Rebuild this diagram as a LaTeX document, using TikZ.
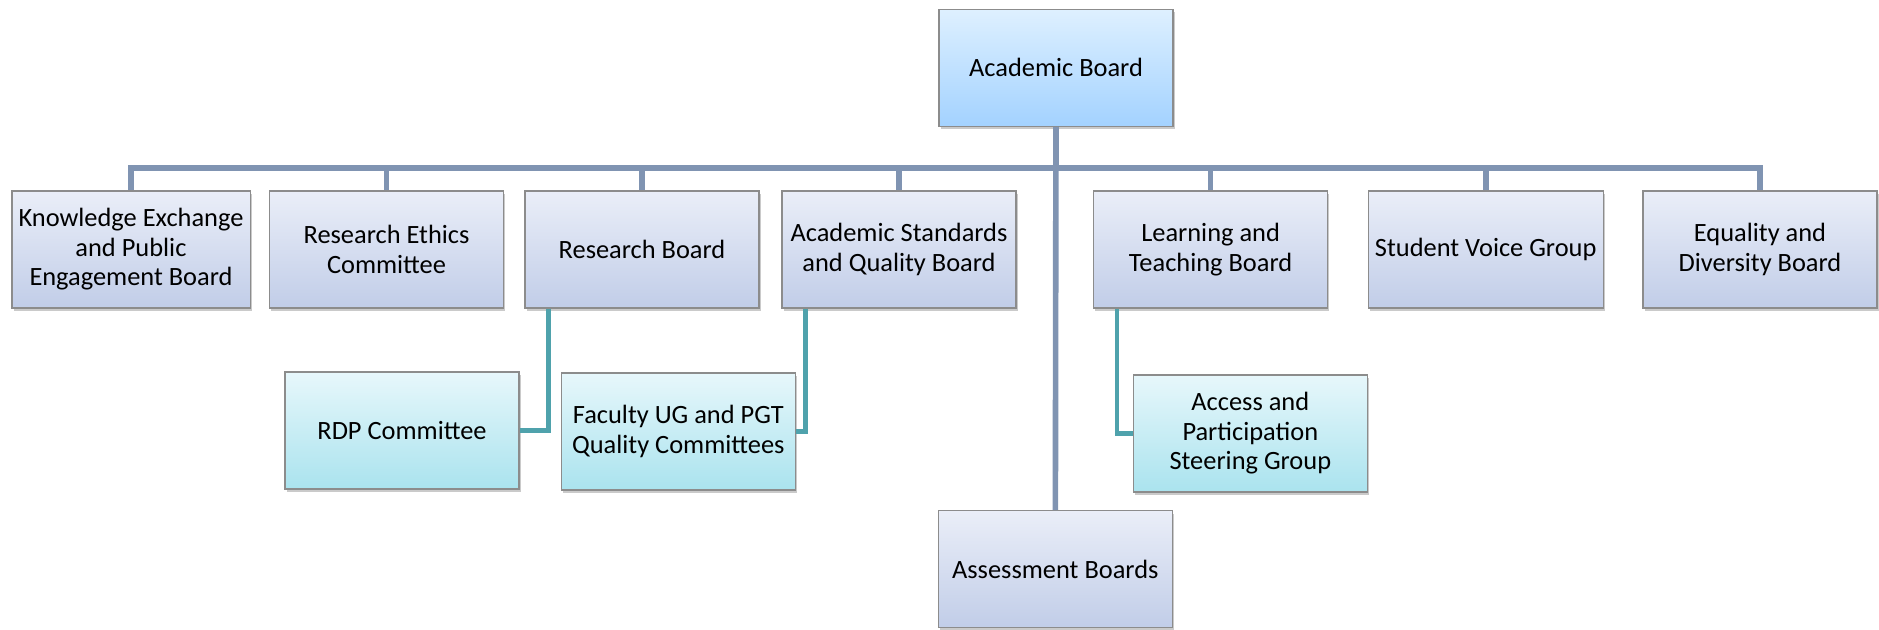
\documentclass[tikz,border=0pt]{standalone}
\usepackage{fontspec}
\setmainfont{Carlito}
\usetikzlibrary{graphs}
\usetikzlibrary{shadows}
\definecolor{rowtop}{HTML}{EAEEF8}
\definecolor{rowbot}{HTML}{C1CDE8}
\definecolor{headtop}{HTML}{DEF0FF}
\definecolor{headbot}{HTML}{A3D2FF}
\definecolor{subtop}{HTML}{E7F7FB}
\definecolor{subbot}{HTML}{AAE3EE}
\definecolor{boxline}{HTML}{8C8C8C}
\definecolor{busline}{HTML}{8094B2}
\definecolor{subline}{HTML}{4FA2AC}
\tikzstyle{box} = [draw=boxline, line width=0.6pt, minimum width=117pt, minimum height=58.5pt, text centered, align=center, font=\fontsize{13.2}{14.8}\selectfont, drop shadow={shadow xshift=0.8pt, shadow yshift=-1.5pt, opacity=0.35, fill=black!60}]
\tikzstyle{plain} = [box, top color=rowtop, bottom color=rowbot]
\tikzstyle{head} = [box, top color=headtop, bottom color=headbot]
\tikzstyle{sub} = [box, top color=subtop, bottom color=subbot]
\tikzstyle{bus} = [draw=busline, line width=2.8pt, to path={(\tikztostart.south) -- ++(0,41) -| (\tikztotarget.north)}]
\tikzstyle{trunk} = [draw=busline, line width=2.8pt]
\tikzstyle{link} = [draw=subline, line width=2.4pt, to path={([xshift=12pt]\tikztostart.south west) |- (\tikztotarget)}]

\begin{document}
\begin{tikzpicture}[x=0.5pt, y=-0.5pt]
        \useasboundingbox (0,0) rectangle (1879,630);

        \node[head](14) at (1056,67.7) {Academic Board};

        \node[plain](21) at (131,249.5) {Knowledge Exchange\\and Public\\Engagement Board};
        \node[plain](22) at (386.5,249.5) {Research Ethics\\Committee};
        \node[plain](23) at (642,249.5) {Research Board};
        \node[plain](24) at (899,249.5) {Academic Standards\\and Quality Board};
        \node[plain](25) at (1210.6,249.5) {Learning and\\Teaching Board};
        \node[plain](26) at (1485.7,249.5) {Student Voice Group};
        \node[plain](27) at (1760,249.5) {Equality and\\Diversity Board};

        \node[sub](32) at (402,430.5) {RDP Committee};
        \node[sub](33) at (678.3,431.5) {Faculty UG and PGT\\Quality Committees};
        \node[sub](35) at (1250.3,433.5) {Access and\\Participation\\Steering Group};

        \node[plain](44) at (1055.3,569.3) {Assessment Boards};

        \graph[edges=bus] {
            (14) -- (21);
            (14) -- (22);
            (14) -- (23);
            (14) -- (24);
            (14) -- (25);
            (14) -- (26);
            (14) -- (27);
        };
        \graph[edges=trunk] {
            (14) -- (44);
        };
        \graph[edges=link] {
            (23) -- (32);
            (24) -- (33);
            (25) -- (35);
        };
    \end{tikzpicture}
\end{document}
